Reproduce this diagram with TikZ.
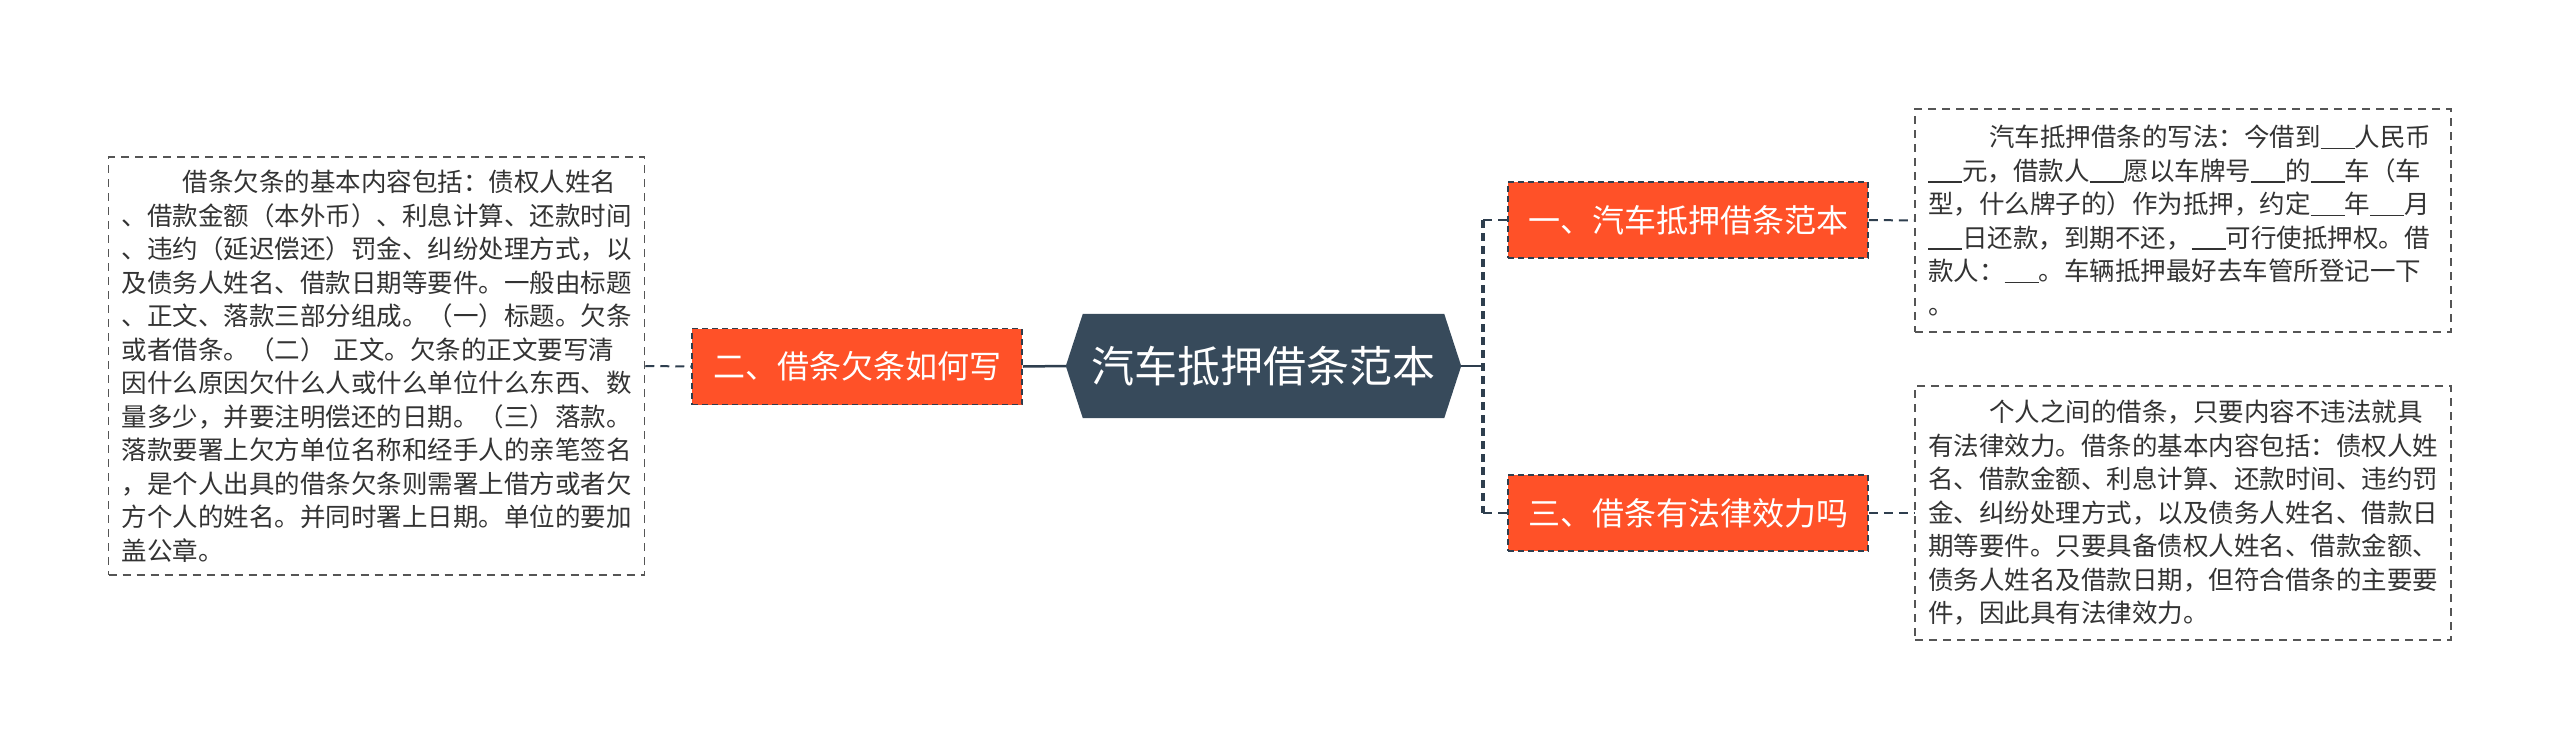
\documentclass[tikz,border=0pt]{standalone}
\usepackage{fontspec}
\setmainfont{Noto Sans CJK SC}
\usetikzlibrary{positioning,calc,backgrounds}

\definecolor{rootfill}{HTML}{374A5B}
\definecolor{secfill}{HTML}{FF5128}
\definecolor{linecol}{HTML}{2E3E4E}
\definecolor{notetext}{HTML}{333333}
\definecolor{noteline}{HTML}{555555}

% blank to fill in
\newcommand\blank{\rule[-0.1em]{34pt}{0.06em}}

\tikzset{
  sec/.style={fill=secfill, draw=linecol, line width=1.5pt, dash pattern=on 6pt off 4pt,
    text=white, font=\fontsize{32}{38}\selectfont, minimum height=76pt, inner xsep=15pt},
  note/.style={draw=noteline, fill=white, line width=1.5pt, dash pattern=on 8pt off 6pt,
    text=notetext, font=\fontsize{25.5}{33.5}\selectfont, align=left,
    text width=510pt, inner xsep=13pt},
  link/.style={draw=linecol, line width=2pt, dash pattern=on 9pt off 6pt},
  rootlink/.style={draw=linecol, line width=2.5pt},
  trunk/.style={draw=linecol, line width=3.5pt, dash pattern=on 8pt off 5pt},
}

\begin{document}
\begin{tikzpicture}[x=1pt,y=-1pt]
\useasboundingbox (0,0) rectangle (2560,750);
% Root
\node (root) [font=\fontsize{43}{50}\selectfont, text=white, minimum width=395pt, minimum height=104pt]
  at (1263.5,366) {汽车抵押借条范本};
\begin{scope}[on background layer]
  \fill[rootfill] ([xshift=17pt]root.north west) -- ([xshift=-17pt]root.north east) -- (root.east)
    -- ([xshift=-17pt]root.south east) -- ([xshift=17pt]root.south west) -- (root.west) -- cycle;
\end{scope}
% Sections
\node (sec1) [sec, minimum width=360pt] at (1688,220) {一、汽车抵押借条范本};
\node (sec2) [sec, minimum width=330pt] at (857,366.5) {二、借条欠条如何写};
\node (sec3) [sec, minimum width=360pt] at (1688,513) {三、借条有法律效力吗};
% Notes
\node (note1) [note, minimum height=223pt] at (2183,220.5) {%
\hspace*{2.4em}汽车抵押借条的写法：今借到\blank 人民币\\
\blank 元，借款人\blank 愿以车牌号\blank 的\blank 车（车\\
型，什么牌子的）作为抵押，约定\blank 年\blank 月\\
\blank 日还款，到期不还，\blank 可行使抵押权。借\\
款人：\blank 。车辆抵押最好去车管所登记一下\\
。};
\node (note2) [note, minimum height=418pt] at (376.5,366) {%
\hspace*{2.4em}借条欠条的基本内容包括：债权人姓名\\
、借款金额（本外币）、利息计算、还款时间\\
、违约（延迟偿还）罚金、纠纷处理方式，以\\
及债务人姓名、借款日期等要件。一般由标题\\
、正文、落款三部分组成。（一）标题。欠条\\
或者借条。（二） 正文。欠条的正文要写清\\
因什么原因欠什么人或什么单位什么东西、数\\
量多少，并要注明偿还的日期。（三）落款。\\
落款要署上欠方单位名称和经手人的亲笔签名\\
，是个人出具的借条欠条则需署上借方或者欠\\
方个人的姓名。并同时署上日期。单位的要加\\
盖公章。};
\node (note3) [note, minimum height=254pt] at (2183,513) {%
\hspace*{2.4em}个人之间的借条，只要内容不违法就具\\
有法律效力。借条的基本内容包括：债权人姓\\
名、借款金额、利息计算、还款时间、违约罚\\
金、纠纷处理方式，以及债务人姓名、借款日\\
期等要件。只要具备债权人姓名、借款金额、\\
债务人姓名及借款日期，但符合借条的主要要\\
件，因此具有法律效力。};
% Connectors
\coordinate (fork) at (1483,366);
\draw[rootlink] (root.east) -- (fork);
\draw[trunk] (fork |- sec1.west) -- (fork |- sec3.west);
\draw[link] (fork |- sec1.west) -- (sec1.west);
\draw[link] (fork |- sec3.west) -- (sec3.west);
\draw[rootlink] (sec2.east) -- (root.west);
\draw[link] (sec1.east) -- (note1.west);
\draw[link] (sec3.east) -- (note3.west);
\draw[link] (note2.east) -- (sec2.west);
\end{tikzpicture}
\end{document}
